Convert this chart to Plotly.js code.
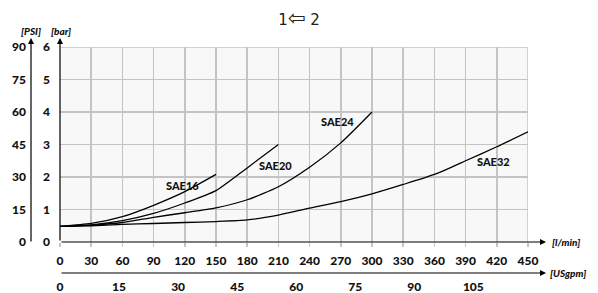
<!DOCTYPE html>
<html><head><meta charset="utf-8">
<script src="https://cdn.plot.ly/plotly-3.0.1.min.js"></script>
<style>html,body{margin:0;padding:0;background:#fff;}#chart{width:598px;height:293px;}</style>
</head><body><div id="chart"></div>
<script>
// Flow in l/min, pressure drop in bar
const flowTicks = [0,30,60,90,120,150,180,210,240,270,300,330,360,390,420,450];
const gpmTicks = [0,15,30,45,60,75,90,105];
const psiTicks = [0,15,30,45,60,75,90];
const barTicks = [0,1,2,3,4,5,6];

const sae16Flow = [0,30,60,90,120,150];
const sae16Bar  = [0.48,0.57,0.78,1.13,1.55,2.08];
const sae20Flow = [0,30,60,90,120,150,180,210];
const sae20Bar  = [0.48,0.53,0.66,0.88,1.2,1.58,2.28,3.0];
const sae24Flow = [0,30,60,90,120,150,180,210,240,270,300];
const sae24Bar  = [0.48,0.52,0.6,0.76,0.9,1.05,1.3,1.7,2.3,3.05,4.0];
const sae32Flow = [0,30,60,90,120,150,180,210,240,270,300,330,360,390,420,450];
const sae32Bar  = [0.48,0.5,0.54,0.57,0.6,0.63,0.68,0.83,1.04,1.24,1.48,1.77,2.08,2.5,2.93,3.39];

const seriesNames = ['SAE16','SAE20','SAE24','SAE32'];
const labelFlow = [118,207,266.6,416.7];
const labelBar  = [1.75,2.34,3.72,2.47];

const LPM_PER_GPM = 3.785;
const FONT = 'Lato, "Open Sans", "DejaVu Sans", sans-serif';

function line(x,y){
  return {x:x,y:y,type:'scatter',mode:'lines',line:{color:'#000',width:1.3,shape:'spline',smoothing:0.6},hoverinfo:'skip',showlegend:false,xaxis:'x',yaxis:'y'};
}
const traces = [
  line(sae16Flow,sae16Bar),
  line(sae20Flow,sae20Bar),
  line(sae24Flow,sae24Bar),
  line(sae32Flow,sae32Bar),
  {x:[],y:[],type:'scatter',mode:'lines',xaxis:'x2',yaxis:'y2',showlegend:false,hoverinfo:'skip'}
];

const L=25, R=70, T=47, B=13, W=598, H=293;
const pw=W-L-R, ph=H-T-B;
const px=v=>(v-L)/pw, py=v=>(H-B-v)/ph;

const tickFont={family:FONT,size:12,color:'#111',weight:900};
const unitFont={family:FONT,size:10,color:'#111',weight:900,style:'italic'};

const annotations = [];
seriesNames.forEach((n,i)=>annotations.push({xref:'x',yref:'y',x:labelFlow[i],y:labelBar[i],text:n,showarrow:false,font:{family:FONT,size:11,color:'#111',weight:900}}));
function arrow(tx,ty,ax,ay){
  annotations.push({xref:'paper',yref:'paper',x:px(tx),y:py(ty),ax:ax,ay:ay,text:'',showarrow:true,arrowhead:2,arrowsize:1,arrowwidth:1.2,arrowcolor:'#000'});
}
arrow(31,38,0,205);
arrow(60,38,0,204);
arrow(546,242,-486,0);
arrow(546,273,-486,0);
function unit(text,x,y,xa){
  annotations.push({xref:'paper',yref:'paper',x:px(x),y:py(y),text:text,showarrow:false,xanchor:xa,yanchor:'middle',font:unitFont});
}
unit('[PSI]',31,31,'center');
unit('[bar]',61,31,'center');
unit('[l/min]',550,242,'left');
unit('[USgpm]',548,273,'left');

const xdom=[px(60),1];
const layout = {
  width:W,height:H,
  margin:{l:L,r:R,t:T,b:B,pad:0},
  paper_bgcolor:'#fff',plot_bgcolor:'#f8f8f8',
  title:{text:'1<span style="font-size:21px">\u21e6</span> 2',x:0.5,xref:'container',y:1-20/H,yref:'container',yanchor:'middle',font:{family:'"DejaVu Sans", sans-serif',size:15,color:'#222'}},
  showlegend:false,
  xaxis:{domain:xdom,anchor:'y',range:[0,450],tickvals:flowTicks,ticktext:flowTicks.map(String),showgrid:true,gridcolor:'#c4c4c4',gridwidth:1.5,zeroline:false,showline:false,ticks:'outside',ticklen:4,tickwidth:1.5,tickcolor:'#c4c4c4',tickfont:tickFont,ticklabelstandoff:4,fixedrange:true},
  yaxis:{domain:[py(242),1],anchor:'x',range:[0,6],tickvals:barTicks,showgrid:true,gridcolor:'#c4c4c4',gridwidth:1.5,zeroline:false,showline:false,ticks:'',tickfont:tickFont,ticklabelstandoff:9,fixedrange:true},
  xaxis2:{overlaying:'x',domain:xdom,anchor:'free',position:py(273),side:'bottom',range:[0,450/LPM_PER_GPM],tickvals:gpmTicks,showgrid:false,zeroline:false,showline:false,ticks:'',tickfont:tickFont,ticklabelstandoff:5,fixedrange:true},
  yaxis2:{overlaying:'y',domain:[py(242),1],anchor:'free',position:px(31),side:'left',range:[0,90],tickvals:psiTicks,showgrid:false,zeroline:false,showline:false,ticks:'',tickfont:tickFont,ticklabelstandoff:5,fixedrange:true},
  shapes:[
    {type:'line',xref:'x',yref:'y',x0:450,x1:450,y0:0,y1:6,line:{color:'#c4c4c4',width:1.5},layer:'below'},
    {type:'line',xref:'x',yref:'y',x0:0,x1:450,y0:6,y1:6,line:{color:'#c4c4c4',width:1.5},layer:'below'}
  ],
  annotations:annotations
};
Plotly.newPlot('chart',traces,layout,{staticPlot:true,displayModeBar:false});
</script></body></html>
